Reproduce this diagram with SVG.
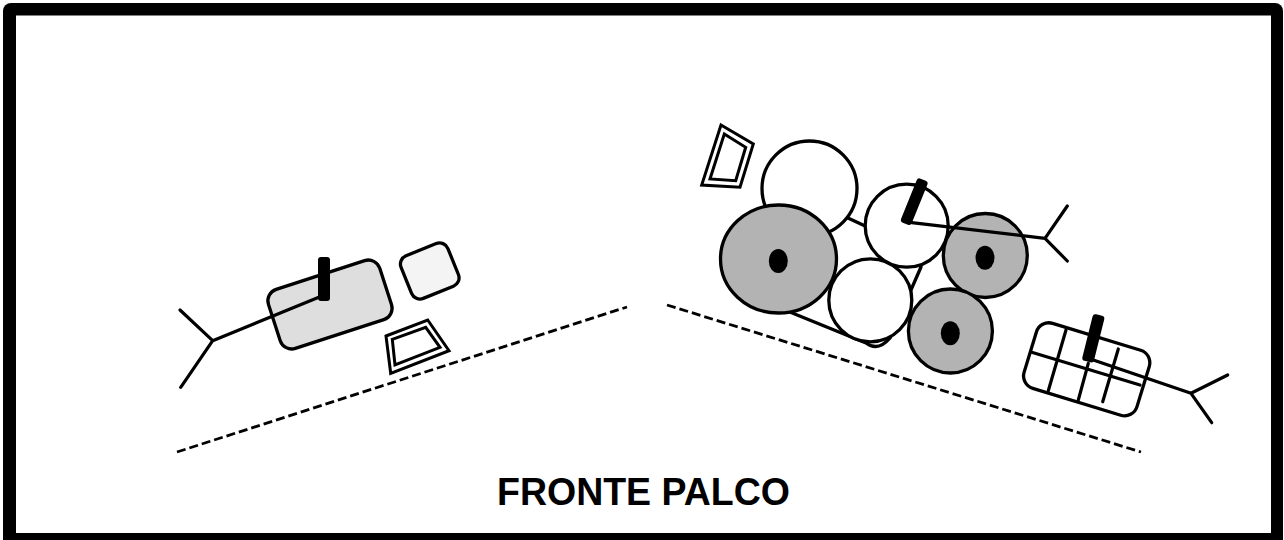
<svg xmlns="http://www.w3.org/2000/svg" width="1284" height="540" viewBox="0 0 1284 540">
<style>
.s{fill:none;stroke:#000;stroke-width:3.200;stroke-linejoin:round;stroke-linecap:round}
.t{fill:none;stroke:#000;stroke-width:3;stroke-linejoin:miter}
.o{stroke:#000;stroke-width:3.300;stroke-linejoin:round}
.w{fill:#fff}
.g{fill:#b3b3b3}
.k{fill:#000}
.d{fill:none;stroke:#000;stroke-width:2.800;stroke-dasharray:9 4}
</style>
<rect width="1284" height="540" fill="#fff"/>
<rect id="frame" x="3" y="3" width="1280" height="547" rx="8" fill="#000"/>
<rect x="16" y="15.500" width="1255" height="517.500" fill="#fff"/>
<g id="left-amp"><rect class="o" x="271.500" y="273.500" width="117" height="62" rx="12" fill="#dedede" transform="rotate(-18 330 304.500)"/></g>
<g id="left-box"><rect class="o" x="404.500" y="248" width="50.500" height="46" rx="9" fill="#f4f4f4" transform="rotate(-22 429.700 271)"/></g>
<g id="left-monitor"><path class="t" d="M386 336L427.700 320L449 350.700L390.700 373.300ZM392.300 339.300L425.700 327.300L440 347.300L395 365Z"/></g>
<g id="left-mic"><path class="s" d="M320 296.700L212.700 340.700M180 310L212.700 340.700L180.700 387.300"/><rect class="k" x="318" y="257" width="12" height="44" rx="3"/></g>
<g id="right-monitor"><path class="t" d="M721 125L753.300 144L740 187.300L701.700 185ZM724.300 134L745.700 147.300L735.700 180.700L710 179Z"/></g>
<g id="drums">
<path class="o w" d="M820 205L906 245L921 267L890 338Q878 352 866 343L780 308Z"/>
<circle class="o w" cx="809.500" cy="188.500" r="47.500"/>
<ellipse class="o g" cx="778.500" cy="259" rx="58" ry="54"/>
<ellipse class="k" cx="778.300" cy="261" rx="9.500" ry="12"/>
<circle class="o w" cx="906.700" cy="225.700" r="41.500"/>
<circle class="o w" cx="870.300" cy="300.300" r="41.500"/>
<circle class="o g" cx="985.300" cy="255.500" r="42"/>
<ellipse class="k" cx="985" cy="257.700" rx="9.500" ry="12"/>
<circle class="o g" cx="950.400" cy="331" r="42"/>
<ellipse class="k" cx="950.300" cy="333.300" rx="9.500" ry="12"/>
</g>
<g id="right-mic"><path class="s" d="M911.700 222.700L1045 238.300M1067.300 206L1045 238.300L1067.300 261"/><rect class="k" x="908.500" y="178" width="11.500" height="47.500" rx="3" transform="rotate(22 914.300 201.700)"/></g>
<g id="keyboard">
<rect class="o w" x="1027.700" y="335.300" width="118" height="68" rx="13" transform="rotate(17 1086.700 369.300)"/>
<path class="s" d="M1031.700 352.300L1140 385M1066 330L1048.300 390.700M1088.300 363.300L1078.300 400M1118.300 349L1102.700 401.700"/>
</g>
<g id="keyboard-mic"><path class="s" d="M1093.300 360L1191 393.300M1227.700 375L1191 393.300L1211.700 422.700"/><rect class="k" x="1087.300" y="314.300" width="12" height="48" rx="3" transform="rotate(14 1093.300 338.300)"/></g>
<g id="connectors">
<path class="d" d="M177 452L627 307"/>
<path class="d" d="M667 305L1141 452"/>
</g>
<text id="label" x="497" y="505" font-family="'Liberation Sans',sans-serif" font-weight="bold" font-size="38" textLength="293" lengthAdjust="spacingAndGlyphs">FRONTE PALCO</text>
</svg>
